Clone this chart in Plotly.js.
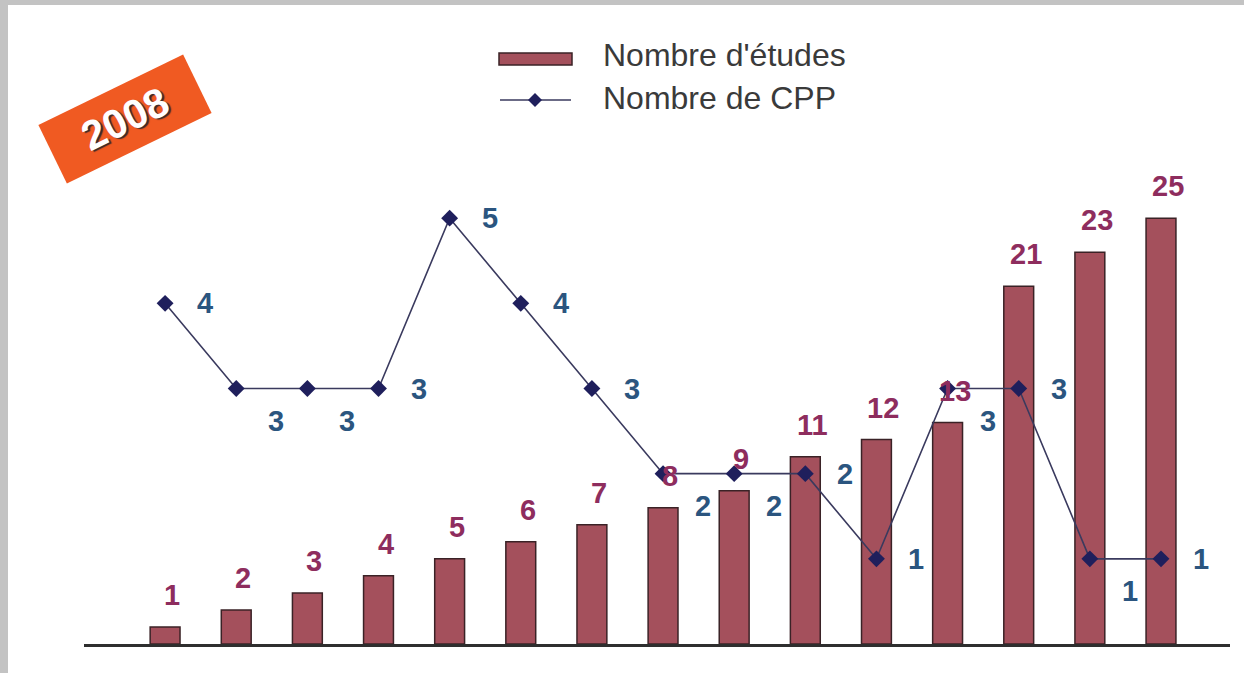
<!DOCTYPE html>
<html>
<head>
<meta charset="utf-8">
<script src="https://cdn.plot.ly/plotly-3.0.1.min.js"></script>
<style>
  html, body { margin: 0; padding: 0; background: #c3c3c3; width: 1244px; height: 673px; overflow: hidden; }
  #chart { position: absolute; left: 8px; top: 5px; width: 1236px; height: 668px; background: #ffffff; }
</style>
</head>
<body>
<div id="chart"></div>
<script>
// ---- data ----
const categories = [1, 2, 3, 4, 5, 6, 7, 8, 9, 10, 11, 12, 13, 14, 15];
const etudes = [1, 2, 3, 4, 5, 6, 7, 8, 9, 11, 12, 13, 21, 23, 25];
const cpp = [4, 3, 3, 3, 5, 4, 3, 2, 2, 2, 1, 3, 3, 1, 1];
const seriesNames = ["Nombre d'études", "Nombre de CPP"];
const badgeText = "2008";

// ---- style ----
const FONT = '"Liberation Sans", Arial, sans-serif';
const barFill = '#a4505c';
const barEdge = '#3a2226';
const barLabelColor = '#8e2d5e';
const lineColor = '#3a3a5e';
const markerColor = '#1f1f5c';
const lineLabelColor = '#2b557f';
// label placement for the CPP values: 'r' = right of point, 'b' = below-right
const cppLabelPlace = ['r','b','b','r','r','r','r','b','b','r','r','b','r','b','r'];

const W = 1236, H = 668;
const M = {l: 76, r: 14, t: 128, b: 29};
const PW = W - M.l - M.r, PH = H - M.t - M.b;
// page (screenshot) pixel -> paper coords
const px = x => (x - 8 - M.l) / PW;
const py = y => (H + 5 - M.b - y) / PH;

const barTrace = {
  type: 'bar',
  x: categories,
  y: etudes,
  name: seriesNames[0],
  width: 0.42,
  marker: {color: barFill, line: {color: barEdge, width: 1.5}},
  hoverinfo: 'x+y',
  showlegend: false
};
const lineTrace = {
  type: 'scatter',
  mode: 'lines+markers',
  x: categories,
  y: cpp,
  yaxis: 'y2',
  name: seriesNames[1],
  line: {color: lineColor, width: 1.6},
  marker: {symbol: 'diamond', size: 13, color: markerColor},
  showlegend: false,
  cliponaxis: false
};

const annotations = [];
categories.forEach((c, i) => {
  annotations.push({
    xref: 'x', yref: 'y', x: c, y: etudes[i],
    text: String(etudes[i]), showarrow: false,
    xanchor: 'center', yanchor: 'middle',
    xshift: 7, yshift: 32,
    font: {family: FONT, size: 29, color: barLabelColor, weight: 'bold'}
  });
  const below = cppLabelPlace[i] === 'b';
  annotations.push({
    xref: 'x', yref: 'y2', x: c, y: cpp[i],
    text: String(cpp[i]), showarrow: false,
    xanchor: 'center', yanchor: 'middle',
    xshift: 40, yshift: below ? -32 : 0,
    font: {family: FONT, size: 29, color: lineLabelColor, weight: 'bold'}
  });
});

// legend texts
annotations.push({
  xref: 'paper', yref: 'paper', x: px(601), y: py(55),
  text: seriesNames[0], showarrow: false, xanchor: 'left', yanchor: 'middle',
  font: {family: FONT, size: 32, color: '#3a3a3a'}
});
annotations.push({
  xref: 'paper', yref: 'paper', x: px(601), y: py(98),
  text: seriesNames[1], showarrow: false, xanchor: 'left', yanchor: 'middle',
  font: {family: FONT, size: 32, color: '#3a3a3a'}
});

// 2008 badge
annotations.push({
  xref: 'paper', yref: 'paper', x: px(125), y: py(119),
  xanchor: 'center', yanchor: 'middle',
  text: '<b>' + badgeText + '</b>', showarrow: false,
  textangle: -26,
  width: 158, height: 62,
  bgcolor: '#f05a22',
  font: {family: FONT, size: 41, color: '#ffffff', shadow: '2px 2px 1px #3a2a2a'}
});

// legend swatches
const dx = 7 / PW, dy = 7 / PH;
const mx = px(535), my = py(100);
const shapes = [
  {type: 'rect', xref: 'paper', yref: 'paper',
   x0: px(499), x1: px(572), y0: py(65), y1: py(53),
   fillcolor: barFill, line: {color: barEdge, width: 1.5}},
  {type: 'line', xref: 'paper', yref: 'paper',
   x0: px(500), x1: px(571), y0: my, y1: my,
   line: {color: lineColor, width: 1.6}},
  {type: 'path', xref: 'paper', yref: 'paper',
   path: `M ${mx - dx},${my} L ${mx},${my + dy} L ${mx + dx},${my} L ${mx},${my - dy} Z`,
   fillcolor: markerColor, line: {color: markerColor, width: 0}}
];

const layout = {
  width: W, height: H,
  margin: M,
  paper_bgcolor: '#ffffff',
  plot_bgcolor: '#ffffff',
  showlegend: false,
  xaxis: {
    range: [categories[0] - 1.14, categories[categories.length - 1] + 0.97],
    showgrid: false, zeroline: false, showticklabels: false, ticks: '',
    showline: true, linecolor: '#2e2e2e', linewidth: 3, fixedrange: true
  },
  yaxis: {range: [0, 30], visible: false, fixedrange: true},
  yaxis2: {range: [0, 6], overlaying: 'y', visible: false, fixedrange: true},
  annotations: annotations,
  shapes: shapes
};

Plotly.newPlot('chart', [barTrace, lineTrace], layout, {displayModeBar: false, staticPlot: true});
</script>
</body>
</html>
